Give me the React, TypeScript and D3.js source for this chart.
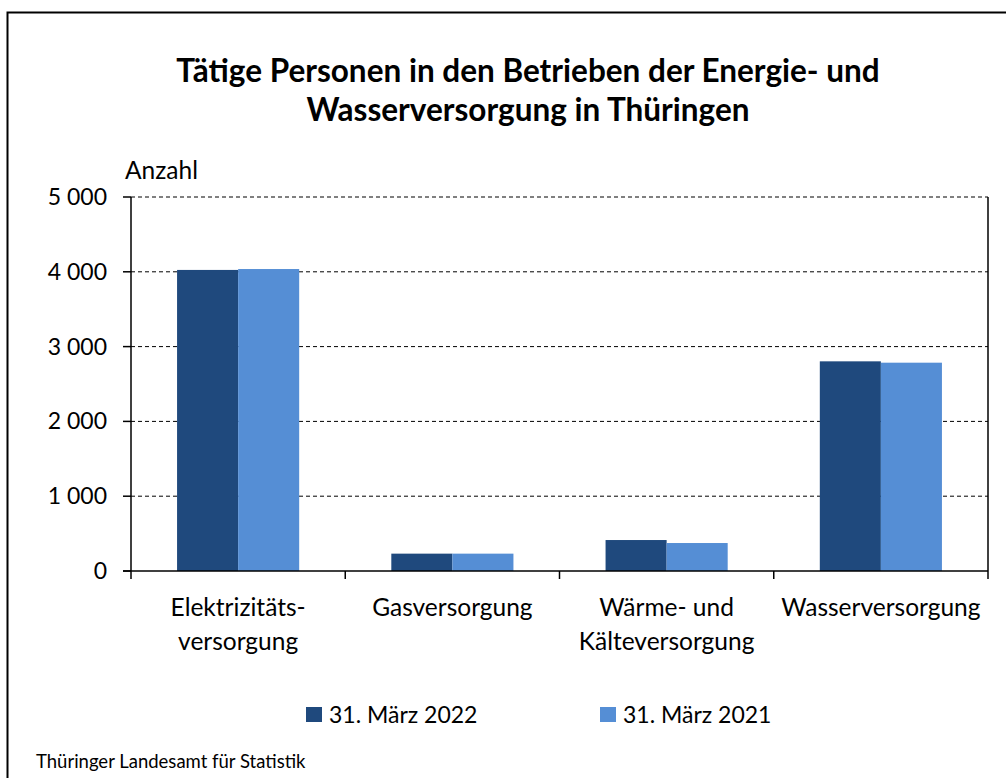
import { useMemo } from 'react';
import * as d3 from 'd3';

const categories = [
    ['Elektrizitäts-', 'versorgung'],
    ['Gasversorgung'],
    ['Wärme- und', 'Kälteversorgung'],
    ['Wasserversorgung'],
];
const series2022 = [4025, 232, 414, 2803];
const series2021 = [4037, 232, 374, 2785];
const seriesNames = ['31. März 2022', '31. März 2021'];
const yTicks = [0, 1000, 2000, 3000, 4000, 5000];

const COLORS = ['#1F497D', '#558ED5'];
const FONT = 'Lato, "Open Sans", sans-serif';
const BOUNDS = { left: 131, right: 988, top: 197, bottom: 571 };

const fmt = (v: number) => d3.format(',')(v).replace(/,/g, ' ');

export default function App() {
    const keys = categories.map((c) => c.join(' '));
    const xScale = useMemo(
        () => d3.scaleBand().domain(keys).range([BOUNDS.left, BOUNDS.right]).paddingInner(0).paddingOuter(0),
        [keys]
    );
    const yScale = useMemo(
        () => d3.scaleLinear().domain([0, 5000]).range([BOUNDS.bottom, BOUNDS.top]),
        []
    );
    const groupWidth = xScale.bandwidth() * 0.57;
    const inner = d3.scaleBand().domain(['0', '1']).range([0, groupWidth]);
    const allSeries = [series2022, series2021];

    return (
        <svg width={1006} height={778} style={{ position: 'absolute', left: 0, top: 0 }} fontFamily={FONT}>
            <rect x={0} y={0} width={1006} height={778} fill="#fff" />
            <path d="M7.5,778 V12.5 H1006" fill="none" stroke="#000" strokeWidth={2} />
            <text x={528} y={82} textAnchor="middle" fontSize={31.5} fontWeight={700}>
                Tätige Personen in den Betrieben der Energie- und
            </text>
            <text x={528} y={121} textAnchor="middle" fontSize={31.5} fontWeight={700}>
                Wasserversorgung in Thüringen
            </text>
            <text x={125} y={179} fontSize={24.5}>
                Anzahl
            </text>
            {yTicks.map((t) => (
                <g key={t}>
                    {t > 0 && (
                        <line
                            x1={BOUNDS.left}
                            x2={BOUNDS.right}
                            y1={yScale(t)}
                            y2={yScale(t)}
                            stroke="#000"
                            strokeWidth={1}
                            strokeDasharray="4,3"
                        />
                    )}
                    <line x1={BOUNDS.left - 8} x2={BOUNDS.left} y1={yScale(t)} y2={yScale(t)} stroke="#000" strokeWidth={1.5} />
                    <text x={107} y={yScale(t) + 8} textAnchor="end" fontSize={23}>
                        {fmt(t)}
                    </text>
                </g>
            ))}
            {allSeries.map((s, si) =>
                s.map((v, i) => {
                    const x0 = (xScale(keys[i]) ?? 0) + (xScale.bandwidth() - groupWidth) / 2;
                    return (
                        <rect
                            key={`${si}-${i}`}
                            x={x0 + (inner(String(si)) ?? 0)}
                            y={yScale(v)}
                            width={inner.bandwidth()}
                            height={yScale(0) - yScale(v)}
                            fill={COLORS[si]}
                        />
                    );
                })
            )}
            <line x1={BOUNDS.left} x2={BOUNDS.left} y1={BOUNDS.top} y2={BOUNDS.bottom} stroke="#000" strokeWidth={1.5} />
            <line x1={BOUNDS.right} x2={BOUNDS.right} y1={BOUNDS.top} y2={BOUNDS.bottom} stroke="#000" strokeWidth={1.5} />
            <line x1={BOUNDS.left - 8} x2={BOUNDS.right} y1={BOUNDS.bottom} y2={BOUNDS.bottom} stroke="#000" strokeWidth={1.5} />
            {keys.concat(['end']).map((k, i) => {
                const x = i < keys.length ? xScale(k) ?? 0 : BOUNDS.right;
                return <line key={k} x1={x} x2={x} y1={BOUNDS.bottom} y2={BOUNDS.bottom + 8} stroke="#000" strokeWidth={1.5} />;
            })}
            {categories.map((lines, i) => {
                const cx = (xScale(keys[i]) ?? 0) + xScale.bandwidth() / 2;
                return (
                    <text key={i} x={cx} textAnchor="middle" fontSize={24.5}>
                        {lines.map((l, j) => (
                            <tspan key={j} x={cx} y={616 + j * 34}>
                                {l}
                            </tspan>
                        ))}
                    </text>
                );
            })}
            {seriesNames.map((n, i) => (
                <g key={n} transform={`translate(${306 + i * 294},0)`}>
                    <rect x={0} y={707} width={16} height={15} fill={COLORS[i]} />
                    <text x={23} y={723} fontSize={23}>
                        {n}
                    </text>
                </g>
            ))}
            <text x={36} y={768} fontSize={18.5}>
                Thüringer Landesamt für Statistik
            </text>
        </svg>
    );
}
